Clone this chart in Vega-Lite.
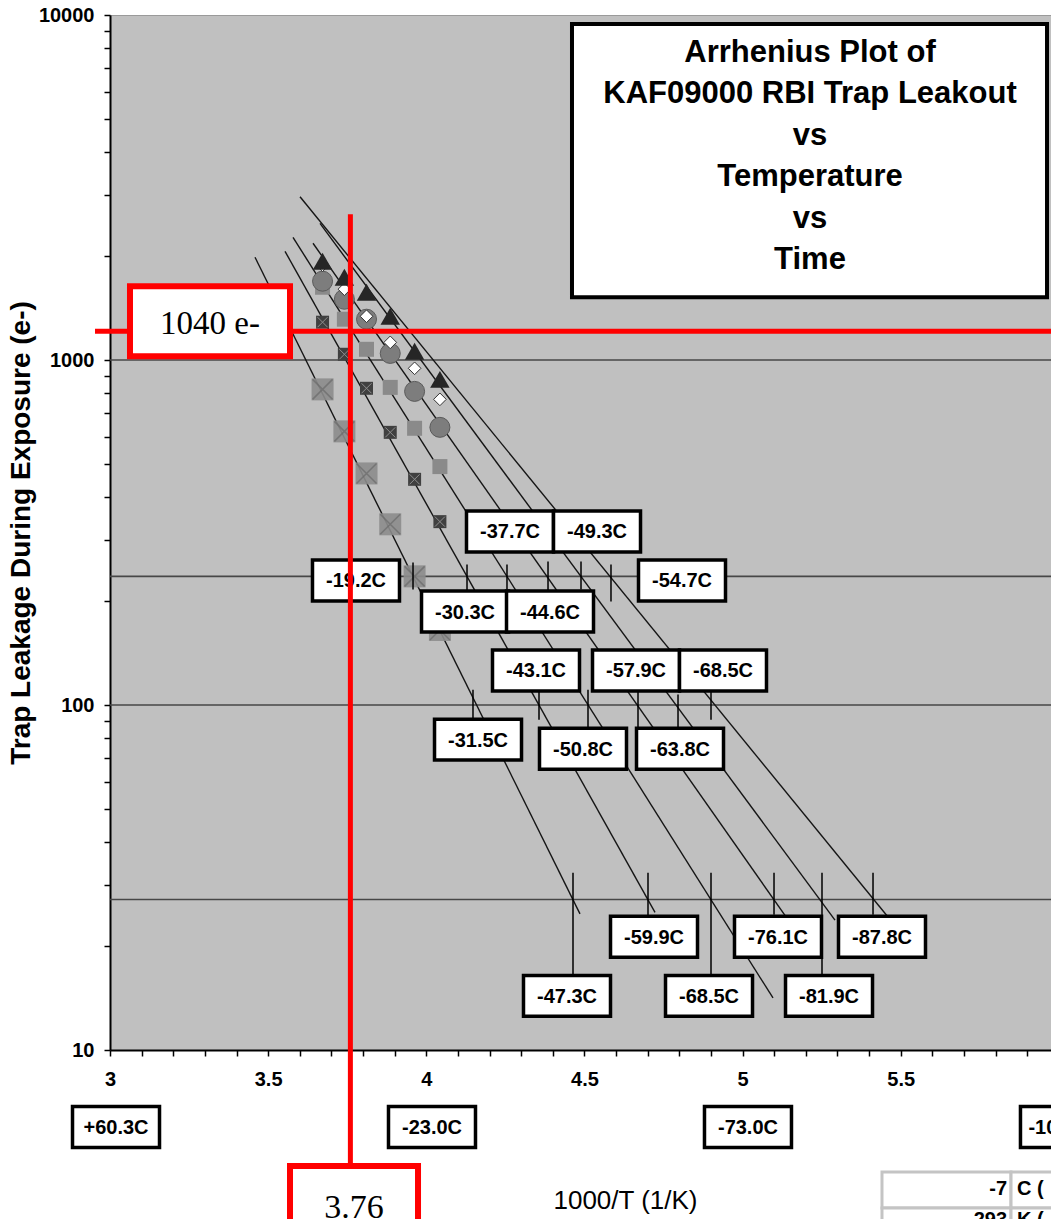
{
  "$schema": "https://vega.github.io/schema/vega-lite/v6.json",
  "width": 941,
  "height": 1035,
  "autosize": {"type": "none"},
  "padding": {"left": 110, "top": 15, "right": 0, "bottom": 169},
  "background": "white",
  "config": {
    "view": {"fill": "#c0c0c0", "stroke": "#9a9a9a", "strokeWidth": 1},
    "font": "Liberation Sans",
    "axis": {"grid": false}
  },
  "datasets": {
    "levels": [{"y": 1000}, {"y": 100}, {"y": 235.8}, {"y": 27.3}],
    "fits": [
      {"line": "L1", "x": 3.4584, "y": 1985}, {"line": "L1", "x": 4.4859, "y": 24.8},
      {"line": "L2", "x": 3.5533, "y": 2065}, {"line": "L2", "x": 4.7231, "y": 25.06},
      {"line": "L3", "x": 3.5786, "y": 2267}, {"line": "L3", "x": 5.0961, "y": 14.15},
      {"line": "L4", "x": 3.6418, "y": 2180}, {"line": "L4", "x": 5.134, "y": 24.55},
      {"line": "L5", "x": 3.6639, "y": 2488}, {"line": "L5", "x": 5.2921, "y": 23.8},
      {"line": "L6", "x": 3.6007, "y": 2972}, {"line": "L6", "x": 5.4565, "y": 24.5}
    ],
    "markers": [
      {"series": "big", "x": 3.672, "y": 822}, {"series": "big", "x": 3.741, "y": 621}, {"series": "big", "x": 3.811, "y": 469}, {"series": "big", "x": 3.886, "y": 334}, {"series": "big", "x": 3.963, "y": 236}, {"series": "big", "x": 4.043, "y": 165},
      {"series": "med", "x": 3.672, "y": 1625}, {"series": "med", "x": 3.741, "y": 1313}, {"series": "med", "x": 3.811, "y": 1074}, {"series": "med", "x": 3.886, "y": 833}, {"series": "med", "x": 3.963, "y": 634}, {"series": "med", "x": 4.043, "y": 491},
      {"series": "dark", "x": 3.672, "y": 1287}, {"series": "dark", "x": 3.741, "y": 1039}, {"series": "dark", "x": 3.811, "y": 828}, {"series": "dark", "x": 3.886, "y": 617}, {"series": "dark", "x": 3.963, "y": 451}, {"series": "dark", "x": 4.043, "y": 340},
      {"series": "circle", "x": 3.672, "y": 1692}, {"series": "circle", "x": 3.741, "y": 1500}, {"series": "circle", "x": 3.811, "y": 1313}, {"series": "circle", "x": 3.886, "y": 1045}, {"series": "circle", "x": 3.963, "y": 811}, {"series": "circle", "x": 4.043, "y": 638},
      {"series": "diamond", "x": 3.672, "y": 1883}, {"series": "diamond", "x": 3.741, "y": 1604}, {"series": "diamond", "x": 3.811, "y": 1339}, {"series": "diamond", "x": 3.886, "y": 1125}, {"series": "diamond", "x": 3.963, "y": 946}, {"series": "diamond", "x": 4.043, "y": 769},
      {"series": "triangle", "x": 3.672, "y": 1933}, {"series": "triangle", "x": 3.741, "y": 1737}, {"series": "triangle", "x": 3.811, "y": 1572}, {"series": "triangle", "x": 3.886, "y": 1339}, {"series": "triangle", "x": 3.963, "y": 1060}, {"series": "triangle", "x": 4.043, "y": 879}
    ],
    "ticks": [
      {"x": 3.958, "y": 258.9, "y2": 216.2},
      {"x": 4.1287, "y": 255.5, "y2": 213.3},
      {"x": 4.2551, "y": 255.5, "y2": 216.2},
      {"x": 4.3848, "y": 260.6, "y2": 213.3},
      {"x": 4.4891, "y": 260.6, "y2": 216.2},
      {"x": 4.5839, "y": 255.5, "y2": 199.5},
      {"x": 4.1476, "y": 110.8, "y2": 90.7},
      {"x": 4.3563, "y": 109.4, "y2": 90.7},
      {"x": 4.5112, "y": 110.8, "y2": 86.0},
      {"x": 4.6693, "y": 109.4, "y2": 86.0},
      {"x": 4.7958, "y": 107.2, "y2": 86.0},
      {"x": 4.9001, "y": 109.4, "y2": 90.7},
      {"x": 4.7009, "y": 32.65, "y2": 24.33},
      {"x": 5.0993, "y": 32.65, "y2": 24.66},
      {"x": 5.4123, "y": 32.65, "y2": 24.66},
      {"x": 4.4638, "y": 32.65, "y2": 16.51},
      {"x": 4.9001, "y": 32.65, "y2": 16.51},
      {"x": 5.251, "y": 32.65, "y2": 16.51}
    ],
    "labels": [
      {"label": "-19.2C", "x": 3.7777, "y": 229.6},
      {"label": "-37.7C", "x": 4.2646, "y": 318.4},
      {"label": "-49.3C", "x": 4.5397, "y": 318.4},
      {"label": "-30.3C", "x": 4.1224, "y": 186.6},
      {"label": "-44.6C", "x": 4.3911, "y": 186.6},
      {"label": "-54.7C", "x": 4.8084, "y": 229.6},
      {"label": "-43.1C", "x": 4.3468, "y": 125.9},
      {"label": "-57.9C", "x": 4.663, "y": 125.9},
      {"label": "-68.5C", "x": 4.938, "y": 125.9},
      {"label": "-31.5C", "x": 4.1635, "y": 79.35},
      {"label": "-50.8C", "x": 4.4954, "y": 74.7},
      {"label": "-63.8C", "x": 4.8021, "y": 74.7},
      {"label": "-59.9C", "x": 4.7199, "y": 21.3},
      {"label": "-76.1C", "x": 5.1119, "y": 21.3},
      {"label": "-87.8C", "x": 5.4407, "y": 21.3},
      {"label": "-47.3C", "x": 4.4448, "y": 14.35},
      {"label": "-68.5C", "x": 4.8938, "y": 14.35},
      {"label": "-81.9C", "x": 5.2732, "y": 14.35},
      {"label": "+60.3C", "x": 3.019, "y": 5.98},
      {"label": "-23.0C", "x": 4.018, "y": 5.98},
      {"label": "-73.0C", "x": 5.017, "y": 5.98},
      {"label": "-106.5C", "x": 6.016, "y": 5.98}
    ],
    "tableCells": [
      {"x": 5.4407, "x2": 5.8486, "y": 4.43, "y2": 3.483},
      {"x": 5.8486, "x2": 6.1, "y": 4.43, "y2": 3.483},
      {"x": 5.4407, "x2": 5.8486, "y": 3.483, "y2": 2.72},
      {"x": 5.8486, "x2": 6.1, "y": 3.483, "y2": 2.72}
    ],
    "tableText": [
      {"text": "-7", "x": 5.836, "y": 3.798, "side": "right"},
      {"text": "C (", "x": 5.8676, "y": 3.798, "side": "left"},
      {"text": "293", "x": 5.836, "y": 3.088, "side": "right"},
      {"text": "K (", "x": 5.8676, "y": 3.088, "side": "left"}
    ]
  },
  "layer": [
    {
      "data": {"name": "levels"},
      "mark": {"type": "rule", "color": "#474747", "strokeWidth": 1.7},
      "encoding": {
        "x": {"datum": 3, "type": "quantitative", "scale": {"domain": [3, 5.975], "nice": false, "zero": false}},
        "x2": {"datum": 5.975},
        "y": {"field": "y", "type": "quantitative", "scale": {"type": "log", "domain": [10, 10000], "nice": false}}
      }
    },
    {
      "data": {"name": "fits"},
      "mark": {"type": "line", "color": "#151515", "strokeWidth": 1.4},
      "encoding": {
        "x": {"field": "x", "type": "quantitative",
          "scale": {"domain": [3, 5.975], "nice": false, "zero": false},
          "axis": {
            "values": [3, 3.1, 3.2, 3.3, 3.4, 3.5, 3.6, 3.7, 3.8, 3.9, 4, 4.1, 4.2, 4.3, 4.4, 4.5, 4.6, 4.7, 4.8, 4.9, 5, 5.1, 5.2, 5.3, 5.4, 5.5, 5.6, 5.7, 5.8, 5.9],
            "tickCount": 30,
            "labelExpr": "abs(datum.value*2 - round(datum.value*2)) < 0.001 ? toString(round(datum.value*2)/2) : ''",
            "labelFlush": false, "labelOverlap": false, "labelBound": false,
            "labelFont": "Liberation Sans", "labelFontWeight": "bold", "labelFontSize": 20, "labelColor": "black", "labelPadding": 13,
            "domainColor": "black", "domainWidth": 2, "tickColor": "black", "tickSize": 6, "tickWidth": 1.5,
            "grid": false,
            "title": "1000/T (1/K)", "titleFont": "Liberation Sans", "titleFontSize": 26, "titleFontWeight": "normal", "titleColor": "black",
            "titleX": 515, "titleY": 150, "titleAlign": "center", "titleBaseline": "middle", "titleAnchor": "start"
          }},
        "y": {"field": "y", "type": "quantitative",
          "scale": {"type": "log", "domain": [10, 10000], "nice": false},
          "axis": {
            "values": [10, 20, 30, 40, 50, 60, 70, 80, 90, 100, 200, 300, 400, 500, 600, 700, 800, 900, 1000, 2000, 3000, 4000, 5000, 6000, 7000, 8000, 9000, 10000],
            "labelExpr": "indexof(['10','100','1000','10000'], toString(datum.value)) >= 0 ? toString(datum.value) : ''",
            "labelOverlap": false, "labelBound": false, "labelFlush": false,
            "labelFont": "Liberation Sans", "labelFontWeight": "bold", "labelFontSize": 20, "labelColor": "black", "labelPadding": 10,
            "domainColor": "black", "domainWidth": 2, "tickColor": "black", "tickSize": 6, "tickWidth": 1.5,
            "grid": false,
            "title": "Trap Leakage During Exposure (e-)", "titleFont": "Liberation Sans", "titleFontSize": 28, "titleFontWeight": "bold", "titleColor": "black", "titlePadding": 3
          }},
        "detail": {"field": "line"}
      }
    },
    {
      "data": {"name": "markers"},
      "transform": [{"filter": "datum.series === 'big'"}],
      "layer": [
        {"mark": {"type": "point", "shape": "square", "filled": true, "fill": "#8c8c8c", "opacity": 0.9, "size": 484}},
        {"mark": {"type": "point", "shape": "M-1,-1L1,1M-1,1L1,-1", "filled": false, "stroke": "#6a6a6a", "strokeWidth": 1.5, "size": 400}}
      ],
      "encoding": {
        "x": {"field": "x", "type": "quantitative", "scale": {"domain": [3, 5.975], "nice": false, "zero": false}},
        "y": {"field": "y", "type": "quantitative", "scale": {"type": "log", "domain": [10, 10000], "nice": false}}
      }
    },
    {
      "data": {"name": "markers"},
      "transform": [{"filter": "datum.series === 'med'"}],
      "mark": {"type": "point", "shape": "square", "filled": true, "fill": "#8a8a8a", "opacity": 1, "size": 225},
      "encoding": {
        "x": {"field": "x", "type": "quantitative", "scale": {"domain": [3, 5.975], "nice": false, "zero": false}},
        "y": {"field": "y", "type": "quantitative", "scale": {"type": "log", "domain": [10, 10000], "nice": false}}
      }
    },
    {
      "data": {"name": "markers"},
      "transform": [{"filter": "datum.series === 'dark'"}],
      "layer": [
        {"mark": {"type": "point", "shape": "square", "filled": true, "fill": "#404040", "opacity": 1, "size": 169}},
        {"mark": {"type": "point", "shape": "M-1,-1L1,1M-1,1L1,-1", "filled": false, "stroke": "#b0b0b0", "strokeWidth": 1, "size": 100}}
      ],
      "encoding": {
        "x": {"field": "x", "type": "quantitative", "scale": {"domain": [3, 5.975], "nice": false, "zero": false}},
        "y": {"field": "y", "type": "quantitative", "scale": {"type": "log", "domain": [10, 10000], "nice": false}}
      }
    },
    {
      "data": {"name": "markers"},
      "transform": [{"filter": "datum.series === 'circle'"}],
      "mark": {"type": "point", "shape": "circle", "filled": true, "fill": "#7d7d7d", "stroke": "#5a5a5a", "strokeWidth": 1, "opacity": 1, "size": 400},
      "encoding": {
        "x": {"field": "x", "type": "quantitative", "scale": {"domain": [3, 5.975], "nice": false, "zero": false}},
        "y": {"field": "y", "type": "quantitative", "scale": {"type": "log", "domain": [10, 10000], "nice": false}}
      }
    },
    {
      "data": {"name": "markers"},
      "transform": [{"filter": "datum.series === 'diamond'"}],
      "mark": {"type": "point", "shape": "diamond", "filled": true, "fill": "white", "stroke": "#333333", "strokeWidth": 1, "opacity": 1, "size": 160},
      "encoding": {
        "x": {"field": "x", "type": "quantitative", "scale": {"domain": [3, 5.975], "nice": false, "zero": false}},
        "y": {"field": "y", "type": "quantitative", "scale": {"type": "log", "domain": [10, 10000], "nice": false}}
      }
    },
    {
      "data": {"name": "markers"},
      "transform": [{"filter": "datum.series === 'triangle'"}],
      "mark": {"type": "point", "shape": "triangle-up", "filled": true, "fill": "#262626", "opacity": 1, "size": 380},
      "encoding": {
        "x": {"field": "x", "type": "quantitative", "scale": {"domain": [3, 5.975], "nice": false, "zero": false}},
        "y": {"field": "y", "type": "quantitative", "scale": {"type": "log", "domain": [10, 10000], "nice": false}}
      }
    },
    {
      "data": {"name": "ticks"},
      "mark": {"type": "rule", "color": "black", "strokeWidth": 1.5},
      "encoding": {
        "x": {"field": "x", "type": "quantitative", "scale": {"domain": [3, 5.975], "nice": false, "zero": false}},
        "y": {"field": "y", "type": "quantitative", "scale": {"type": "log", "domain": [10, 10000], "nice": false}},
        "y2": {"field": "y2"}
      }
    },
    {
      "data": {"name": "labels"},
      "layer": [
        {"mark": {"type": "point", "shape": "M-1,-0.47H1V0.47H-1Z", "filled": true, "fill": "white", "stroke": "black", "strokeWidth": 3.5, "opacity": 1, "size": 7569}},
        {"mark": {"type": "text", "font": "Liberation Sans", "fontWeight": "bold", "fontSize": 20, "color": "black", "align": "center", "baseline": "middle", "dy": 1},
         "encoding": {"text": {"field": "label"}}}
      ],
      "encoding": {
        "x": {"field": "x", "type": "quantitative", "scale": {"domain": [3, 5.975], "nice": false, "zero": false}},
        "y": {"field": "y", "type": "quantitative", "scale": {"type": "log", "domain": [10, 10000], "nice": false}}
      }
    },
    {
      "data": {"name": "tableCells"},
      "mark": {"type": "rect", "fill": "white", "stroke": "#c4c4c4", "strokeWidth": 3},
      "encoding": {
        "x": {"field": "x", "type": "quantitative", "scale": {"domain": [3, 5.975], "nice": false, "zero": false}},
        "x2": {"field": "x2"},
        "y": {"field": "y", "type": "quantitative", "scale": {"type": "log", "domain": [10, 10000], "nice": false}},
        "y2": {"field": "y2"}
      }
    },
    {
      "data": {"name": "tableText"},
      "transform": [{"filter": "datum.side === 'right'"}],
      "mark": {"type": "text", "font": "Liberation Sans", "fontWeight": "bold", "fontSize": 20, "color": "black", "align": "right", "baseline": "alphabetic"},
      "encoding": {
        "x": {"field": "x", "type": "quantitative", "scale": {"domain": [3, 5.975], "nice": false, "zero": false}},
        "y": {"field": "y", "type": "quantitative", "scale": {"type": "log", "domain": [10, 10000], "nice": false}},
        "text": {"field": "text"}
      }
    },
    {
      "data": {"name": "tableText"},
      "transform": [{"filter": "datum.side === 'left'"}],
      "mark": {"type": "text", "font": "Liberation Sans", "fontWeight": "bold", "fontSize": 20, "color": "black", "align": "left", "baseline": "alphabetic"},
      "encoding": {
        "x": {"field": "x", "type": "quantitative", "scale": {"domain": [3, 5.975], "nice": false, "zero": false}},
        "y": {"field": "y", "type": "quantitative", "scale": {"type": "log", "domain": [10, 10000], "nice": false}},
        "text": {"field": "text"}
      }
    },
    {
      "data": {"values": [{}]},
      "layer": [
        {"mark": {"type": "rule", "color": "#ff0000", "strokeWidth": 5},
         "encoding": {"x": {"datum": 3.76, "type": "quantitative"}, "y": {"datum": 2647, "type": "quantitative"}, "y2": {"datum": 2.5}}},
        {"mark": {"type": "rule", "color": "#ff0000", "strokeWidth": 5},
         "encoding": {"x": {"datum": 2.9526, "type": "quantitative"}, "x2": {"datum": 6.1}, "y": {"datum": 1211.5, "type": "quantitative"}}},
        {"mark": {"type": "rect", "fill": "white", "stroke": "#ff0000", "strokeWidth": 6},
         "encoding": {"x": {"datum": 3.0632, "type": "quantitative"}, "x2": {"datum": 3.5691}, "y": {"datum": 1636, "type": "quantitative"}, "y2": {"datum": 1025}}},
        {"mark": {"type": "text", "text": "1040 e-", "font": "Liberation Serif", "fontSize": 33, "color": "black", "align": "center", "baseline": "middle"},
         "encoding": {"x": {"datum": 3.3162, "type": "quantitative"}, "y": {"datum": 1270, "type": "quantitative"}}},
        {"mark": {"type": "rect", "fill": "white", "stroke": "#ff0000", "strokeWidth": 6},
         "encoding": {"x": {"datum": 3.5691, "type": "quantitative"}, "x2": {"datum": 3.9738}, "y": {"datum": 4.61, "type": "quantitative"}, "y2": {"datum": 2.5}}},
        {"mark": {"type": "text", "text": "3.76", "font": "Liberation Serif", "fontSize": 34, "color": "black", "align": "center", "baseline": "alphabetic"},
         "encoding": {"x": {"datum": 3.7714, "type": "quantitative"}, "y": {"datum": 3.257, "type": "quantitative"}}},
        {"mark": {"type": "rect", "fill": "white", "stroke": "black", "strokeWidth": 4},
         "encoding": {"x": {"datum": 4.4606, "type": "quantitative"}, "x2": {"datum": 5.9624}, "y": {"datum": 9417, "type": "quantitative"}, "y2": {"datum": 1520.6}}},
        {"mark": {"type": "text", "text": ["Arrhenius Plot of", "KAF09000 RBI Trap Leakout", "vs", "Temperature", "vs", "Time"], "font": "Liberation Sans", "fontWeight": "bold", "fontSize": 31, "lineHeight": 41.4, "color": "black", "align": "center", "baseline": "alphabetic"},
         "encoding": {"x": {"datum": 5.2131, "type": "quantitative"}, "y": {"datum": 7304, "type": "quantitative"}}}
      ],
      "encoding": {
        "x": {"scale": {"domain": [3, 5.975], "nice": false, "zero": false}},
        "y": {"scale": {"type": "log", "domain": [10, 10000], "nice": false}}
      }
    }
  ]
}
